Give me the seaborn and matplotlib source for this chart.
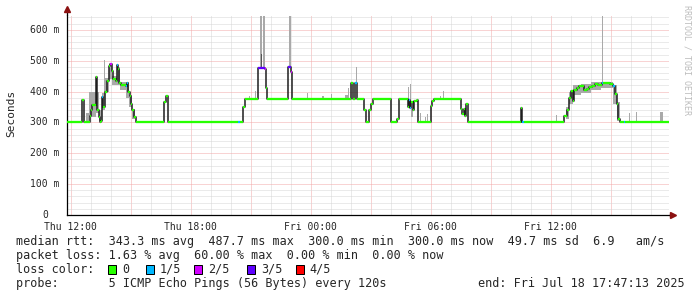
import matplotlib
matplotlib.use("Agg")
import matplotlib.pyplot as plt
from matplotlib.patches import Rectangle
import numpy as np
import pandas as pd
import seaborn as sns

# ---------------- data (hours after Thu 12:00, median rtt in ms, loss bin) ----------------
bp_hours = [-0.185, 0.58, 0.65, 0.94, 1.00, 1.08, 1.165, 1.25, 1.33, 1.415, 1.465, 1.50,
            1.58, 1.63, 1.70, 1.80, 1.915, 1.965, 2.05, 2.13, 2.25, 2.33, 2.38, 2.415,
            2.53, 2.665, 2.75, 2.83, 2.88, 2.95, 3.00, 3.08, 3.165, 3.25, 4.665, 4.75,
            4.865, 8.38, 8.465, 8.63, 8.715, 9.38, 9.715, 9.78, 9.83, 10.88, 11.04, 11.09,
            14.015, 14.115, 14.215, 14.33, 14.665, 14.765, 14.915, 15.015, 15.10, 16.00,
            16.315, 16.43, 16.865, 16.93, 16.98, 17.04, 17.115, 17.19, 17.30, 17.365,
            18.00, 18.065, 18.165, 19.50, 19.58, 19.68, 19.74, 19.79, 19.85, 22.50,
            22.59, 22.64, 24.68, 24.80, 24.915, 25.015, 25.115, 25.165, 25.30, 25.43,
            25.665, 25.80, 25.915, 26.05, 26.215, 26.365, 26.55, 26.615, 26.965, 27.13,
            27.215, 27.30, 27.38, 27.465, 27.67, 27.72]
median_ms = [300, 371, 300, 320, 339, 355, 358, 446, 339, 317, 300, 305,
             382, 350, 398, 433, 484, 489, 468, 441, 435, 487, 473, 428,
             422, 420, 417, 428, 397, 387, 360, 339, 319, 300, 365, 386,
             300, 300, 300, 351, 377, 476, 473, 410, 377, 478, 462, 377,
             428, 377, 428, 377, 340, 300, 340, 360, 377, 300,
             310, 377, 350, 371, 347, 365, 341, 370, 371, 300,
             352, 370, 377, 345, 328, 345, 321, 360, 300, 347,
             300, 300, 320, 340, 380, 403, 370, 406, 410, 419,
             405, 409, 415, 419, 426, 420, 427, 427, 425, 419,
             392, 360, 312, 300, 300, 300]
loss_idx = [0, 0, 0, 0, 0, 0, 0, 0, 0, 0, 0, 0,
            1, 0, 0, 0, 0, 2, 0, 0, 0, 1, 0, 0,
            0, 0, 1, 1, 0, 0, 0, 0, 0, 0, 0, 0,
            0, 1, 0, 0, 0, 3, 2, 0, 0, 3, 2, 0,
            0, 0, 1, 0, 0, 0, 0, 0, 0, 0,
            0, 0, 0, 1, 1, 0, 0, 0, 0, 0,
            0, 0, 0, 0, 0, 0, 0, 0, 0, 0,
            1, 0, 0, 0, 0, 0, 0, 0, 0, 0,
            0, 0, 0, 0, 0, 0, 1, 0, 0, 1,
            0, 0, 0, 0, 1, 0]
end_hour = 29.915

# smoke (spread of the individual pings): start hour, width hours, low ms, high ms, dark
smoke_start = [0.77, 0.92, 1.25, 1.40, 1.58, 1.70, 1.90, 2.05, 2.30, 2.45, 2.75, 2.90, 3.05,
               1.64, 8.94, 9.21, 9.48, 9.60, 9.52, 10.92, 11.80, 12.55, 13.00, 13.70, 13.85,
               14.28, 16.88, 16.99, 17.00, 17.45, 17.70, 17.81, 18.45, 18.60, 24.25,
               24.75, 24.90, 25.10, 25.50, 26.00, 26.50, 27.10, 27.30, 26.55,
               27.92, 28.28, 29.45]
smoke_width = [0.15, 0.33, 0.15, 0.18, 0.12, 0.20, 0.15, 0.25, 0.15, 0.30, 0.15, 0.15, 0.15,
               0.05, 0.05, 0.05, 0.09, 0.115, 0.06, 0.10, 0.05, 0.10, 0.05, 0.20, 0.05,
               0.05, 0.05, 0.05, 0.12, 0.05, 0.05, 0.05, 0.05, 0.05, 0.05,
               0.15, 0.20, 0.40, 0.50, 0.50, 0.60, 0.20, 0.15, 0.08,
               0.05, 0.05, 0.15]
smoke_lo = [300, 317, 330, 305, 340, 400, 440, 420, 420, 405, 380, 350, 310,
            398, 377, 377, 476, 476, 476, 478, 377, 377, 377, 377, 377,
            428, 371, 347, 318, 300, 300, 300, 377, 377, 300,
            310, 360, 390, 395, 405, 410, 360, 305, 427,
            300, 300, 300]
smoke_hi = [330, 398, 400, 340, 395, 445, 490, 450, 480, 430, 430, 390, 345,
            502, 387, 403, 646, 646, 523, 646, 394, 387, 393, 389, 413,
            478, 416, 425, 345, 330, 318, 327, 387, 403, 324,
            350, 400, 420, 425, 430, 432, 420, 365, 646,
            330, 334, 335]
smoke_dark = [0] * 18 + [1] + [0] * 28

loss_colors = ["#26ff00", "#00b8ff", "#d100ff", "#5e00ff", "#ff0000"]
loss_labels = ["0", "1/5", "2/5", "3/5", "4/5"]
x_tick_hours = [0, 6, 12, 18, 24]
x_tick_labels = ["Thu 12:00", "Thu 18:00", "Fri 00:00", "Fri 06:00", "Fri 12:00"]
y_ticks = [0, 100, 200, 300, 400, 500, 600]

stats_rtt = "median rtt:  343.3 ms avg  487.7 ms max  300.0 ms min  300.0 ms now  49.7 ms sd  6.9   am/s"
stats_loss = "packet loss: 1.63 % avg  60.00 % max  0.00 % min  0.00 % now"
probe_txt = "probe:       5 ICMP Echo Pings (56 Bytes) every 120s"
end_txt = "end: Fri Jul 18 17:47:13 2025"

# ---------------- figure ----------------
W, H = 697, 297
sns.set_style("white")
plt.rcParams["font.family"] = ["DejaVu Sans Mono", "DejaVu Sans"]

fig = plt.figure(figsize=(W / 100, H / 100), dpi=100)
fig.patch.set_facecolor("white")
ax = fig.add_axes([67 / W, (H - 215) / H, 602 / W, 200 / H])
ax.set_facecolor("white")
ax.set_xlim(-0.185, end_hour)
ax.set_ylim(0, 648)

# grid
ax.set_xticks(np.arange(0, 30, 3))
ax.set_xticks(np.arange(-0, 30, 1), minor=True)
ax.set_yticks(y_ticks)
ax.set_yticks(np.arange(0, 648, 20), minor=True)
ax.grid(which="minor", color="#d6d6d6", ls=(0, (1, 1)), lw=0.72)
ax.grid(which="major", color="#f2a8a8", ls=(0, (1, 1)), lw=0.72)
ax.set_axisbelow(True)
ax.tick_params(which="major", length=2.2, width=0.72, color="#f2a0a0", labelsize=7, pad=3.0)
ax.tick_params(which="minor", length=1.5, width=0.72, color="#d4d4d4")
ax.set_xticklabels([x_tick_labels[x_tick_hours.index(h)] if h in x_tick_hours else ""
                    for h in np.arange(0, 30, 3)])
ax.set_yticklabels([])

for s in ["top", "right"]:
    ax.spines[s].set_visible(False)
for s in ["left", "bottom"]:
    ax.spines[s].set_color("black")
    ax.spines[s].set_linewidth(0.9)

# smoke
for st, w, lo, hi, dk in zip(smoke_start, smoke_width, smoke_lo, smoke_hi, smoke_dark):
    ax.bar(st, hi - lo, width=w, bottom=lo, align="edge",
           color="#555555" if dk else "#a9a9a9", linewidth=0, zorder=2)

# median line (step)
t = bp_hours + [end_hour]
v = median_ms + [median_ms[-1]]
df = pd.DataFrame({"t": t, "v": v})
sns.lineplot(data=df, x="t", y="v", drawstyle="steps-post", color="#1e1e1e",
             lw=1.1, estimator=None, sort=False, ax=ax, zorder=3)
ax.set_xlabel("")
ax.set_ylabel("")

# loss-coloured median segments
for i in range(len(bp_hours)):
    ax.hlines(median_ms[i], t[i], t[i + 1], color=loss_colors[loss_idx[i]],
              lw=1.65, zorder=4)

# axis arrows
ax.plot([0, 0], [1, 1.025], color="black", lw=0.9, transform=ax.transAxes, clip_on=False)
ax.plot([0], [1.03], marker="^", ms=4, color="#8b1010", transform=ax.transAxes,
        clip_on=False, zorder=6)
ax.plot([1, 1.003], [0, 0], color="black", lw=0.9, transform=ax.transAxes, clip_on=False)
ax.plot([1.006], [0], marker=">", ms=4, color="#8b1010", transform=ax.transAxes,
        clip_on=False, zorder=6)

# y tick labels (monospace, aligned like rrdtool)
ytr = ax.get_yaxis_transform()
for yv in y_ticks:
    if yv == 0:
        ax.text((48.5 - 67) / 602, yv, "0", ha="right", va="center", fontsize=7,
                transform=ytr, clip_on=False)
    else:
        ax.text((59 - 67) / 602, yv, f"{yv} m", ha="right", va="center", fontsize=7,
                transform=ytr, clip_on=False)

# side texts
fig.text(11 / W, 1 - 113.5 / H, "Seconds", rotation=90, ha="center", va="center", fontsize=8)
fig.text(687.5 / W, 1 - 60 / H, "RRDTOOL / TOBI OETIKER", rotation=270, ha="center",
         va="center", fontsize=6, color="#bdbdbd")

# legend / statistics
def px(x, y):
    return x / W, 1 - y / H

fs = 8.5
fig.text(*px(16, 241), stats_rtt, ha="left", va="center", fontsize=fs)
fig.text(*px(16, 255.3), stats_loss, ha="left", va="center", fontsize=fs)
fig.text(*px(16, 269.3), "loss color:", ha="left", va="center", fontsize=fs)
box_x = [108.3, 145.7, 194.0, 247.3, 295.7]
lab_x = [122.5, 159.3, 207.7, 261.0, 309.3]
for bx, lx, col, lab in zip(box_x, lab_x, loss_colors, loss_labels):
    fig.patches.append(Rectangle((bx / W, 1 - 273.7 / H), 8 / W, 9.2 / H,
                                 transform=fig.transFigure, facecolor=col,
                                 edgecolor="black", lw=0.72))
    fig.text(*px(lx, 269.3), lab, ha="left", va="center", fontsize=fs)
fig.text(*px(16, 283.6), probe_txt, ha="left", va="center", fontsize=fs)
fig.text(*px(478.3, 283.6), end_txt, ha="left", va="center", fontsize=fs)

fig.savefig("out.png", dpi=100, facecolor="white")
